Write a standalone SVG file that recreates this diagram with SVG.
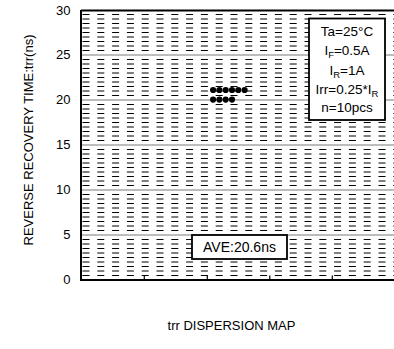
<svg xmlns="http://www.w3.org/2000/svg" width="394" height="349" viewBox="0 0 394 349">
<style>
text{font-family:"Liberation Sans",Arial,sans-serif;fill:#000}
.dash{fill:none;stroke:#000;stroke-width:1;stroke-dasharray:7 7.8}
.major{fill:none;stroke:#7a7a7a;stroke-width:1.2}
.frame{fill:none;stroke:#000;stroke-width:2}
.box{fill:#fff;stroke:#000;stroke-width:1.8}
.lbl{font-size:13px}
.leg{font-size:13.5px}
</style>
<rect width="394" height="349" fill="#fff"/>
<g id="grid">
<path class="dash" d="M82.5 14.5H394M82.5 19H394M82.5 23.5H394M82.5 28H394M82.5 32.5H394M82.5 37H394M82.5 41.5H394M82.5 46H394M82.5 50.5H394
M82.5 59.5H394M82.5 64H394M82.5 68.5H394M82.5 73H394M82.5 77.5H394M82.5 82H394M82.5 86.5H394M82.5 91H394M82.5 95.5H394
M82.5 104.5H394M82.5 109H394M82.5 113.5H394M82.5 118H394M82.5 122.5H394M82.5 127H394M82.5 131.5H394M82.5 136H394M82.5 140.5H394
M82.5 149.5H394M82.5 154H394M82.5 158.5H394M82.5 163H394M82.5 167.5H394M82.5 172H394M82.5 176.5H394M82.5 181H394M82.5 185.5H394
M82.5 194.5H394M82.5 199H394M82.5 203.5H394M82.5 208H394M82.5 212.5H394M82.5 217H394M82.5 221.5H394M82.5 226H394M82.5 230.5H394
M82.5 239.5H394M82.5 244H394M82.5 248.5H394M82.5 253H394M82.5 257.5H394M82.5 262H394M82.5 266.5H394M82.5 271H394M82.5 275.5H394"/>
<path class="major" d="M81 55H394M81 100H394M81 145H394M81 190H394M81 235H394"/>
</g>
<g id="axes">
<path class="frame" d="M81 10.5H394M81 10V281M80 280H394"/>
<path fill="none" stroke="#000" stroke-width="1.2" d="M144.3 280V275.5M207.3 280V275.5M269.8 280V275.5M332.3 280V275.5"/>
<g class="lbl" text-anchor="end">
<text x="70.5" y="14.5">30</text>
<text x="70.5" y="59">25</text>
<text x="70.5" y="104">20</text>
<text x="70.5" y="149">15</text>
<text x="70.5" y="194">10</text>
<text x="70.5" y="239">5</text>
<text x="70.5" y="284">0</text>
</g>
<text class="lbl" text-anchor="middle" transform="translate(33,140) rotate(-90)">REVERSE RECOVERY TIME:trr(ns)</text>
<text class="lbl" text-anchor="middle" x="231.5" y="330">trr DISPERSION MAP</text>
</g>
<g id="data" fill="#000">
<circle cx="213.1" cy="90" r="3.1"/><circle cx="219.4" cy="90" r="3.1"/><circle cx="225.7" cy="90" r="3.1"/><circle cx="232" cy="90" r="3.1"/><circle cx="238.3" cy="90" r="3.1"/><circle cx="244.6" cy="90" r="3.1"/>
<circle cx="213.1" cy="99.6" r="3.1"/><circle cx="219.4" cy="99.6" r="3.1"/><circle cx="225.7" cy="99.6" r="3.1"/><circle cx="232" cy="99.6" r="3.1"/>
</g>
<g id="legend">
<rect class="box" x="309" y="18.5" width="76" height="101.5"/>
<g class="leg" text-anchor="middle">
<text x="347" y="36">Ta=25°C</text>
<text x="347" y="55">I<tspan font-size="9.5" dy="3">F</tspan><tspan dy="-3">=0.5A</tspan></text>
<text x="347" y="74.5">I<tspan font-size="9.5" dy="3">R</tspan><tspan dy="-3">=1A</tspan></text>
<text x="347" y="94">Irr=0.25*I<tspan font-size="9.5" dy="3">R</tspan></text>
<text x="347" y="112">n=10pcs</text>
</g>
</g>
<g id="average">
<rect class="box" x="192" y="235" width="95" height="24"/>
<text x="239.5" y="251.5" text-anchor="middle" font-size="14">AVE:20.6ns</text>
</g>
</svg>
